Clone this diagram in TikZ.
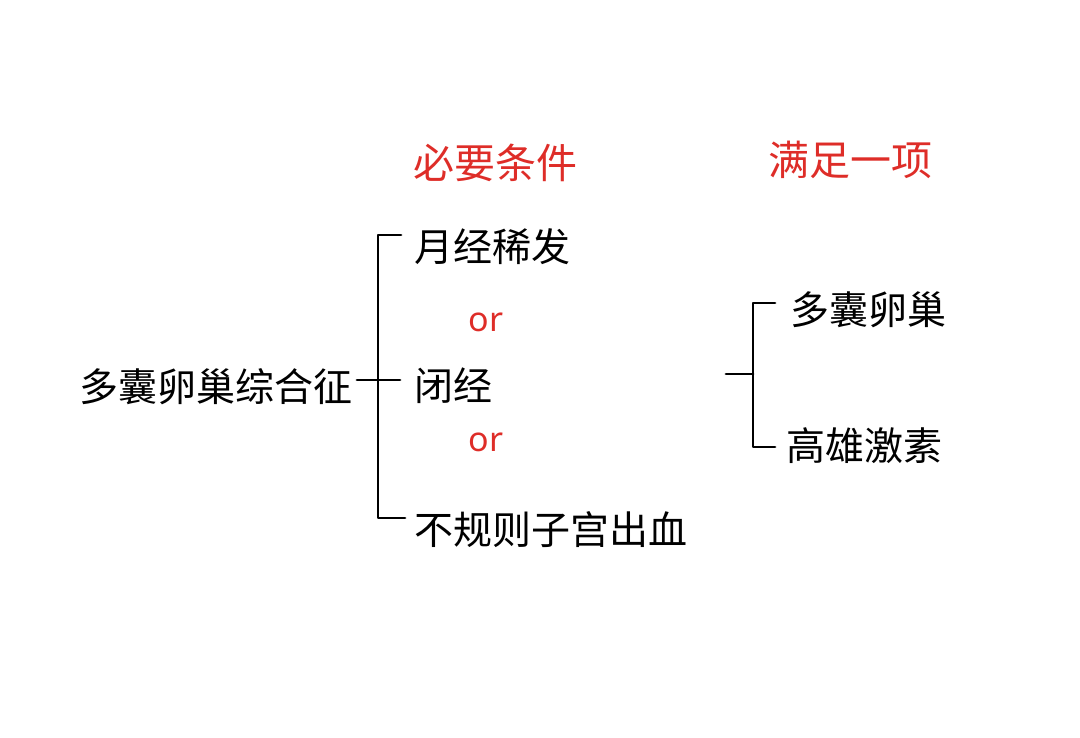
\documentclass[tikz,border=0pt]{standalone}
\usepackage{fontspec}
\setmainfont{Noto Sans CJK SC}
\newfontfamily\latinf{Noto Sans}
\definecolor{hred}{RGB}{222,45,40}
\begin{document}
\begin{tikzpicture}[x=1pt,y=-1pt,
  txt/.style={inner sep=0pt,font=\fontsize{39}{41}\selectfont,text=black},
  rtxt/.style={inner sep=0pt,font=\fontsize{41}{43}\selectfont,text=hred},
  ortxt/.style={inner sep=0pt,font=\latinf\fontsize{34}{36}\selectfont,text=hred},
  bracket/.style={line width=2.8pt,black,line cap=round,line join=round}]
\useasboundingbox (0,0) rectangle (1080,737);
% texts
\node[txt,anchor=east] (pcos) at (353,387) {多囊卵巢综合征};
\node[rtxt] (need) at (495,163) {必要条件};
\node[rtxt] (one) at (850,160) {满足一项};
\node[txt,anchor=west] (c1) at (414,247) {月经稀发};
\node[ortxt] (or1) at (486,322) {or};
\node[txt,anchor=west] (c2) at (414,386) {闭经};
\node[ortxt] (or2) at (486,442) {or};
\node[txt,anchor=west] (c3) at (414,530) {不规则子宫出血};
\node[txt,anchor=west] (d1) at (790,310) {多囊卵巢};
\node[txt,anchor=west] (d2) at (786,446) {高雄激素};
% left bracket
\coordinate (lmL) at (357,380);
\coordinate (lm) at (378,380);
\coordinate (ltop) at (378,235);
\coordinate (lbot) at (378,518);
\coordinate (ltopE) at (401,235);
\coordinate (lbotE) at (405,518);
\coordinate (lmE) at (400,380);
\draw[bracket] (ltopE) -- (ltop) -- (lbot) -- (lbotE);
\draw[bracket] (lmL) -- (lm) -- (lmE);
% right bracket
\coordinate (rin) at (726,374);
\coordinate (rm) at (753,374);
\coordinate (rtop) at (753,303);
\coordinate (rbot) at (753,447);
\coordinate (rtopE) at (775,303);
\coordinate (rbotE) at (775,447);
\draw[bracket] (rtopE) -- (rtop) -- (rbot) -- (rbotE);
\draw[bracket] (rin) -- (rm);
\end{tikzpicture}
\end{document}
